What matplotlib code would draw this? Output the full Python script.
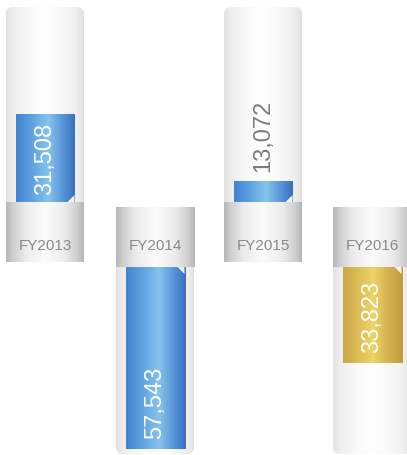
import numpy as np
import matplotlib.pyplot as plt
from matplotlib.patches import FancyBboxPatch, Polygon

years = ['FY2013', 'FY2014', 'FY2015', 'FY2016']
values = [31508, 57543, 13072, 33823]
value_labels = ['31,508', '57,543', '13,072', '33,823']
bar_colors = ['blue', 'blue', 'blue', 'gold']

# tube boxes in pixels (left, top, width, height) and which way the bar grows
tubes = [(6, 7, 78, 255), (116, 207, 78, 247), (224, 7, 78, 255), (333, 207, 78, 247)]
grow_up = [True, False, True, False]

W, H = 407, 455
BAND = 60          # height of the grey label band, px
HIDDEN = 26        # part of each bar hidden under the band, px
UPP = 277          # data units per pixel
BAR_W = 59         # px

plt.rcParams['font.family'] = ['Liberation Sans', 'DejaVu Sans']

fig = plt.figure(figsize=(W / 100, H / 100), dpi=100)


def hgrad(stops, n=256):
    # stops: list of (pos, hexcolor) -> n x 3 array
    x = np.linspace(0, 1, n)
    pos = [p for p, c in stops]
    rgb = np.array([[int(c[i:i + 2], 16) / 255 for i in (1, 3, 5)] for p, c in stops])
    return np.stack([np.interp(x, pos, rgb[:, k]) for k in range(3)], axis=1)


def grad_img(stops, rows=4):
    row = hgrad(stops)
    return np.tile(row[None, :, :], (rows, 1, 1))


body_stops = [(0, '#e2e2e2'), (0.1, '#efefef'), (0.35, '#fbfbfb'), (0.5, '#fefefe'),
              (0.65, '#fbfbfb'), (0.9, '#efefef'), (1, '#e0e0e0')]
band_stops = [(0, '#b6b6b6'), (0.08, '#cdcdcd'), (0.25, '#ececec'), (0.5, '#fbfbfb'),
              (0.75, '#ececec'), (0.92, '#cdcdcd'), (1, '#b4b4b4')]
fills = {
    'blue': [(0, '#4084d2'), (0.25, '#5c9fdf'), (0.55, '#86c4ec'), (0.85, '#4f8ad3'), (1, '#3a6fbd')],
    'gold': [(0, '#cda649'), (0.25, '#dcbc57'), (0.5, '#ecd466'), (0.8, '#d2ac4c'), (1, '#c49b3f')],
}

for i in range(len(years)):
    left, top, w, h = tubes[i]
    ax = fig.add_axes([left / W, 1 - (top + h) / H, w / W, h / H])
    ax.axis('off')

    # tube body with rounded corners
    tube = FancyBboxPatch((0, 0), 1, 1, boxstyle='round,pad=0,rounding_size=%f' % (7 / w),
                          mutation_aspect=w / h, transform=ax.transAxes,
                          facecolor='none', edgecolor='none')
    ax.add_patch(tube)
    im = ax.imshow(grad_img(body_stops), extent=(0, 1, 0, 1), transform=ax.transAxes,
                   aspect='auto', interpolation='bilinear', zorder=1)
    im.set_clip_path(tube)

    # bar
    v = values[i]
    bw = BAR_W / w
    bars = ax.bar(0.5, v, width=bw, color='none', edgecolor='none', zorder=2)
    bim = ax.imshow(grad_img(fills[bar_colors[i]]), extent=(0.5 - bw / 2, 0.5 + bw / 2, 0, v),
                    aspect='auto', interpolation='bilinear', zorder=2)
    bim.set_clip_path(bars[0])

    # grey label band, square corners, covers the foot of the bar
    fb = BAND / h
    by0 = 0 if grow_up[i] else 1 - fb
    ax.imshow(grad_img(band_stops), extent=(0, 1, by0, by0 + fb), transform=ax.transAxes,
              aspect='auto', interpolation='bilinear', zorder=3)

    # small folded corner where the bar meets the band
    visible = v / UPP - HIDDEN
    if visible > 8:
        x1 = 0.5 + bw / 2
        if grow_up[i]:
            yb = fb
            tri = [(x1, yb), (x1 - 7 / w, yb), (x1, yb + 7 / h)]
        else:
            yb = 1 - fb
            tri = [(x1, yb), (x1 - 7 / w, yb), (x1, yb - 7 / h)]
        ax.add_patch(Polygon(tri, closed=True, transform=ax.transAxes,
                             facecolor='#f2f2f2', edgecolor='none', zorder=2.5))

    ax.set_xlim(0, 1)
    if grow_up[i]:
        zero = h - BAND + HIDDEN
        ax.set_ylim(-(h - zero) * UPP, zero * UPP)
    else:
        zero = BAND - HIDDEN
        ax.set_ylim((h - zero) * UPP, -zero * UPP)

    # value text, reading bottom to top
    inside = visible > 85
    if grow_up[i]:
        if inside:
            ax.annotate(value_labels[i], (0.5, v), xytext=(0, -6), textcoords='offset points',
                        rotation=90, ha='center', va='top', color='white', fontsize=17,
                        zorder=4)
        else:
            ax.annotate(value_labels[i], (0.5, v), xytext=(0, 6), textcoords='offset points',
                        rotation=90, ha='center', va='bottom', color='#7c7c7c', fontsize=17,
                        zorder=4)
    else:
        ax.annotate(value_labels[i], (0.5, v), xytext=(0, 7), textcoords='offset points',
                    rotation=90, ha='center', va='bottom', color='white', fontsize=17,
                    zorder=4)

    fig.text((left + w / 2) / W, 1 - 246.5 / H, years[i], ha='center', va='center',
             color='#8a8a8a', fontsize=11, zorder=5)

fig.savefig('out.png', dpi=100)
